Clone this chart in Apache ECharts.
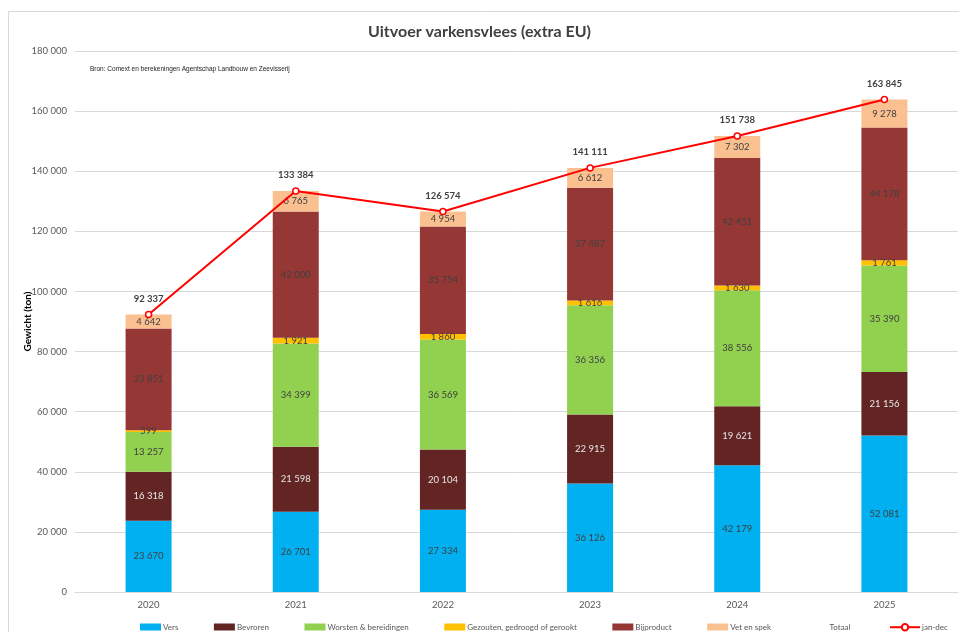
<!DOCTYPE html>
<html>
<head>
<meta charset="utf-8">
<script src="https://cdn.jsdelivr.net/npm/echarts@6/dist/echarts.min.js"></script>
<style>
  html, body { margin: 0; padding: 0; background: #fff; }
  #chart { width: 959px; height: 632px; }
</style>
</head>
<body>
<div id="chart"></div>
<script>
// Export of pork outside the EU, tonnes per product group
const years = ['2020', '2021', '2022', '2023', '2024', '2025'];
const vers = [23670, 26701, 27334, 36126, 42179, 52081];
const bevroren = [16318, 21598, 20104, 22915, 19621, 21156];
const worsten = [13257, 34399, 36569, 36356, 38556, 35390];
const gezouten = [599, 1921, 1860, 1616, 1630, 1761];
const bijproduct = [33851, 42000, 35754, 37487, 42451, 44178];
const vetEnSpek = [4642, 6765, 4954, 6612, 7302, 9278];
const totaal = [92337, 133384, 126574, 141111, 151738, 163845];
const yTicks = { min: 0, max: 180000, interval: 20000 };

const fmt = v => String(Math.round(v)).replace(/\B(?=(\d{3})+(?!\d))/g, ' ');
const FONT = 'Lato';

function stackSeries(name, data, color, labelColor) {
  return {
    name, type: 'bar', stack: 'total', data,
    barWidth: 46,
    itemStyle: { color },
    label: {
      show: true, position: 'inside', formatter: p => fmt(p.value),
      color: labelColor, fontSize: 9.5, fontFamily: FONT
    },
    emphasis: { disabled: true }
  };
}

const legendText = { fontFamily: FONT, fontSize: 8, color: '#595959', padding: [0, 0, 0, -3] };

const chart = echarts.init(document.getElementById('chart'), null, { renderer: 'canvas' });
chart.setOption({
  animation: false,
  backgroundColor: '#ffffff',
  title: {
    text: 'Uitvoer varkensvlees (extra EU)',
    left: 'center', top: 19,
    textStyle: { fontFamily: FONT, fontSize: 16, fontWeight: 'bold', color: '#404040' }
  },
  graphic: [
    {
      type: 'rect', left: 6, top: 9, silent: true,
      shape: { width: 1000, height: 700 },
      style: { fill: 'none', stroke: '#d9d9d9', lineWidth: 1 }
    },
    {
      type: 'text', left: 90, top: 66, silent: true,
      style: {
        text: 'Bron: Comext en berekeningen Agentschap Landbouw en Zeevisserij',
        fontFamily: 'Liberation Sans', fontSize: 6.5, fill: '#222'
      }
    }
  ],
  grid: { left: 75, right: 1, top: 51, bottom: 40, containLabel: false },
  legend: [
    {
      data: ['Vers', 'Bevroren', 'Worsten & bereidingen', 'Gezouten, gedroogd of gerookt', 'Bijproduct', 'Vet en spek', 'Totaal'],
      left: 140, top: 623, padding: 0, itemWidth: 21, itemHeight: 7, itemGap: 35.5,
      icon: 'rect',
      textStyle: legendText
    },
    {
      data: ['jan-dec'],
      left: 889, top: 623, padding: 0, itemWidth: 30, itemHeight: 8,
      textStyle: legendText
    }
  ],
  xAxis: {
    type: 'category', data: years,
    axisLine: { lineStyle: { color: '#d9d9d9' } },
    axisTick: { show: false },
    axisLabel: { fontFamily: FONT, fontSize: 9.5, color: '#595959', margin: 8 }
  },
  yAxis: {
    type: 'value', min: yTicks.min, max: yTicks.max, interval: yTicks.interval,
    name: 'Gewicht (ton)', nameLocation: 'middle', nameGap: 42, nameRotate: 90,
    nameMoveOverlap: false,
    nameTextStyle: { fontFamily: FONT, fontSize: 10, fontWeight: 'bold', color: '#000' },
    axisLine: { show: false }, axisTick: { show: false },
    axisLabel: { fontFamily: FONT, fontSize: 9.5, color: '#595959', margin: 8, formatter: v => fmt(v) },
    splitLine: { lineStyle: { color: '#d9d9d9' } }
  },
  series: [
    stackSeries('Vers', vers, '#00b0f0', '#404040'),
    stackSeries('Bevroren', bevroren, '#632523', '#e6e6e6'),
    stackSeries('Worsten & bereidingen', worsten, '#92d050', '#404040'),
    stackSeries('Gezouten, gedroogd of gerookt', gezouten, '#ffc000', '#404040'),
    stackSeries('Bijproduct', bijproduct, '#953735', '#404040'),
    stackSeries('Vet en spek', vetEnSpek, '#fac090', '#404040'),
    {
      name: 'Totaal', type: 'bar', data: totaal, barWidth: 46, barGap: '-100%',
      itemStyle: { color: 'rgba(0,0,0,0)' },
      label: {
        show: true, position: 'top', distance: 11, formatter: p => fmt(p.value),
        fontFamily: FONT, fontSize: 9.5, fontWeight: 'bold', color: '#404040'
      },
      emphasis: { disabled: true }, z: 1
    },
    {
      name: 'jan-dec', type: 'line', data: totaal,
      symbol: 'circle', symbolSize: 6,
      lineStyle: { color: '#ff0000', width: 2 },
      itemStyle: { color: '#ffffff', borderColor: '#ff0000', borderWidth: 1.5 },
      emphasis: { disabled: true }, z: 5
    }
  ]
});
</script>
</body>
</html>
